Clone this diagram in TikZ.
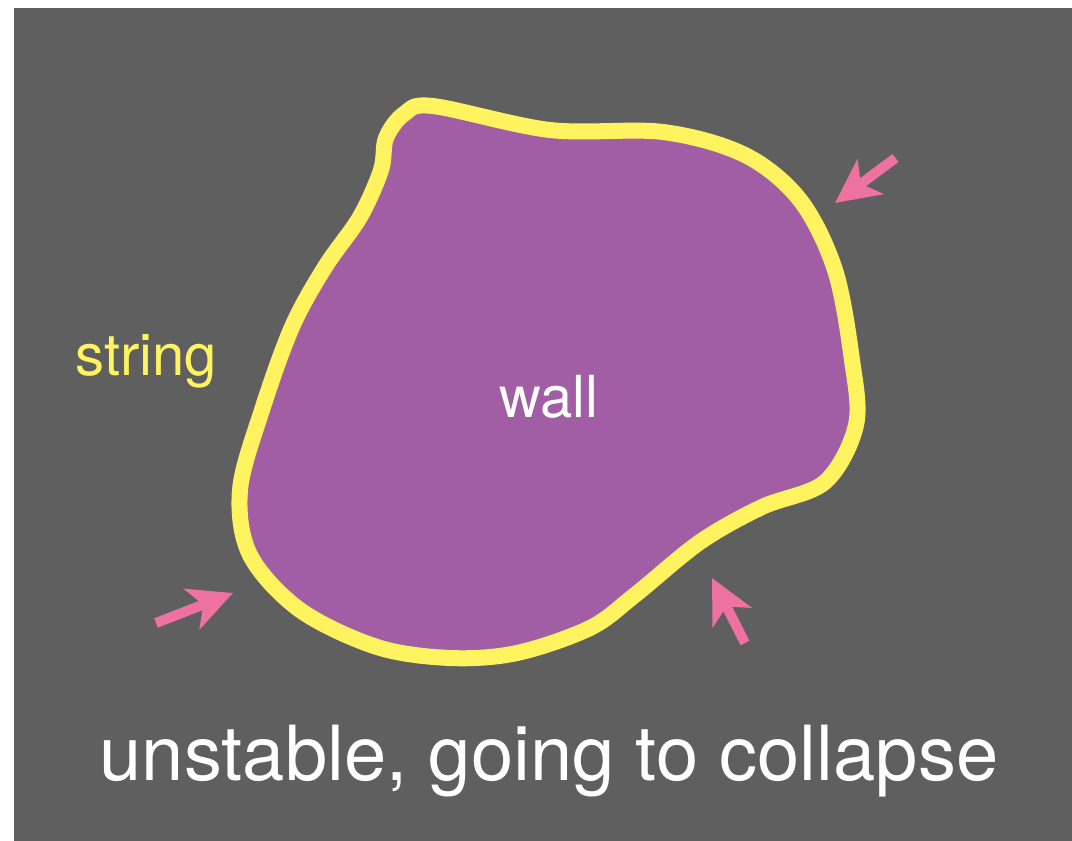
\documentclass[tikz,border=0pt]{standalone}
\usepackage{fontspec}
\setmainfont{TeX Gyre Heros}
\usetikzlibrary{arrows.meta}
\definecolor{BGgray}{RGB}{95,95,95}
\definecolor{Wfill}{RGB}{162,94,165}
\definecolor{Sline}{RGB}{255,243,95}
\definecolor{Parrow}{RGB}{238,114,160}
\tikzset{
  pusharrow/.style={draw=Parrow,line width=10pt,line cap=butt,-{Stealth[length=44pt,width=43pt,inset=12pt]}},
}

\begin{document}
\begin{tikzpicture}[x=1pt,y=-1pt,line cap=round,line join=round]
\path[use as bounding box] (0,0) rectangle (1072,841);
\fill[BGgray] (14,8) rectangle (1072,841);
% the wall, held by the string
\draw[line width=16pt,draw=Sline,fill=Wfill] plot[smooth cycle,tension=0.55] coordinates {
  (433,106) (550,130) (663,132) (745,155) (800,200)
  (835,270) (852,360) (856,425) (825,482) (762,507)
  (700,542) (635,595) (590,628) (517,653) (450,658) (377,647)
  (300,610) (250,555) (240,490) (262,410) (292,327)
  (325,267) (360,217) (381,170) (386,138) (404,114)};
\node[font=\fontsize{58}{60}\selectfont,text=white,anchor=base] (wall) at (549,417) {wall};
\node[font=\fontsize{58}{60}\selectfont,text=Sline,anchor=base] (string) at (146,375) {string};
% outside pushing in
\coordinate (p1tail) at (895.5,158);
\coordinate (p1tip) at (835,203);
\coordinate (p2tail) at (156,623);
\coordinate (p2tip) at (233,593);
\coordinate (p3tail) at (745,643);
\coordinate (p3tip) at (712,578);
\draw[pusharrow] (p1tail) -- (p1tip);
\draw[pusharrow] (p2tail) -- (p2tip);
\draw[pusharrow] (p3tail) -- (p3tip);
\node[font=\fontsize{76}{80}\selectfont,text=white,anchor=base] (caption) at (549,780) {unstable, going to collapse};
\end{tikzpicture}
\end{document}
